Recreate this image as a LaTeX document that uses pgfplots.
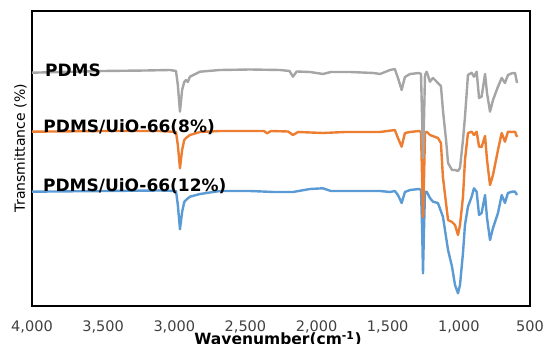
\documentclass[border=0pt]{standalone}
\usepackage{pgfplots}
\pgfplotsset{compat=1.18}
\usepackage{fontspec}
\setmainfont{DejaVu Sans}
\definecolor{cgray}{HTML}{A5A5A5}
\definecolor{corange}{HTML}{ED7D31}
\definecolor{cblue}{HTML}{5B9BD5}
\definecolor{ctick}{HTML}{404040}
\begin{document}
\begin{tikzpicture}
\begin{axis}[
  scale only axis,
  width=498bp, height=295bp,
  xmin=500, xmax=4000, ymin=0, ymax=295,
  x dir=reverse,
  xtick={500,1000,1500,2000,2500,3000,3500,4000},
  ytick=\empty,
  major tick length=0pt,
  axis line style={black, line width=1.8bp},
  /pgf/number format/assume math mode=true,
  /pgf/number format/1000 sep={,},
  xticklabel style={font=\fontsize{14.5bp}{17bp}\selectfont, text=ctick, inner sep=0pt, anchor=north, yshift=-15bp},
  xlabel={\textbf{Wavenumber(cm\textsuperscript{-1})}},
  xlabel style={font=\fontsize{15.5bp}{18bp}\selectfont, at={(rel axis cs:0.494,0)}, anchor=north, inner sep=0pt, yshift=-25bp},
  ylabel={Transmittance (\%)},
  ylabel style={font=\fontsize{14bp}{16bp}\selectfont, at={(rel axis cs:-0.01,0.535)}, anchor=south, inner sep=0pt},
  clip=false,
]
\coordinate (bl) at (rel axis cs:0,0);
\coordinate (tr) at (rel axis cs:1,1);
% PDMS/UiO-66(12%)
\addplot[cblue, line width=2.4bp, line join=round] coordinates {
(4000,114.3)(3500,115)(3100,115.5)(2988,115)(2975,101)(2960,76.7)(2945,94)(2930,104)(2918,106)(2890,109.3)(2819,112)(2679,115)(2468,115)(2300,114)(2166,114)(2046,117)(1955,117.7)(1900,115)(1765,115)(1554,115)(1484,114)(1450,115)(1428,111)(1402,103)(1379,114)(1343,116)(1280,117)(1266,116)(1258,76)(1252,32.7)(1245,76)(1238,114)(1226,114.3)(1203,108)(1182,104.3)(1147,103)(1112,89.3)(1076,56)(1048,39.3)(1027,21)(1006,12.7)(992,21)(971,53)(957,81)(936,99.3)(910,109.3)(894,117.7)(875,114.3)(858,91)(840,93)(816,111)(802,88)(781,66)(760,78)(725,93)(699,111)(676,103)(655,113)(627,114.3)(605,114.3)(591,111)
};
% PDMS/UiO-66(8%)
\addplot[corange, line width=2.4bp, line join=round] coordinates {
(4000,174.3)(3500,175)(3100,175)(2988,174)(2975,161)(2960,137.7)(2945,156)(2930,166)(2918,168)(2890,171)(2819,174)(2679,175)(2468,175)(2370,175)(2348,172.7)(2320,175)(2200,174.5)(2166,171)(2130,174)(1955,173)(1800,174)(1554,174)(1500,175)(1450,176)(1428,168)(1402,159.3)(1379,173)(1343,174)(1280,175)(1266,174)(1258,126)(1252,89)(1245,126)(1238,173)(1226,174.3)(1203,171)(1147,168)(1126,163)(1112,129)(1076,86)(1048,84)(1027,81)(1006,71)(992,81)(971,109)(957,146)(936,173)(910,174.3)(894,171)(875,174.3)(858,159.3)(840,159)(816,170)(802,146)(781,121)(760,131)(725,156)(699,173)(676,164.3)(655,174.3)(627,174)(605,174.3)(591,169)
};
% PDMS
\addplot[cgray, line width=2.4bp, line join=round] coordinates {
(4000,233.3)(3800,234)(3500,235)(3200,235.5)(3030,236)(2988,235)(2975,221)(2960,194.3)(2945,216)(2930,224)(2918,226)(2905,224)(2890,229.3)(2819,234.3)(2679,236)(2468,236.5)(2257,236)(2190,235)(2166,229.3)(2140,234.5)(2046,234)(1955,232)(1900,234)(1765,234)(1600,233)(1554,232)(1484,236)(1450,237)(1428,228)(1402,216)(1379,229)(1343,232)(1280,233)(1266,232)(1258,186)(1252,148)(1245,186)(1238,231)(1226,234.3)(1203,224.3)(1182,228)(1147,223)(1126,220)(1112,196)(1090,166)(1076,143)(1048,136)(1027,136)(1006,135)(992,138)(971,166)(957,189)(936,231)(910,233.3)(894,229.3)(875,234.3)(858,208)(840,209.3)(816,232)(802,213)(781,194.3)(760,206)(725,219.3)(699,228)(676,223)(655,231)(627,232.7)(605,233)(591,223)
};
\node[anchor=base west, inner sep=0pt, font=\fontsize{17bp}{19bp}\selectfont\bfseries] at (axis cs:3909,229.5) {PDMS};
\node[anchor=base west, inner sep=0pt, font=\fontsize{17bp}{19bp}\selectfont\bfseries] at (axis cs:3921,173.3) {PDMS/UiO-66(8\%)};
\node[anchor=base west, inner sep=0pt, font=\fontsize{17bp}{19bp}\selectfont\bfseries] at (axis cs:3923,114.3) {PDMS/UiO-66(12\%)};
\end{axis}
\pgfresetboundingbox
\path[use as bounding box] ([shift={(-32bp,-38bp)}]bl) rectangle ([shift={(17bp,11bp)}]tr);
\end{tikzpicture}
\end{document}
